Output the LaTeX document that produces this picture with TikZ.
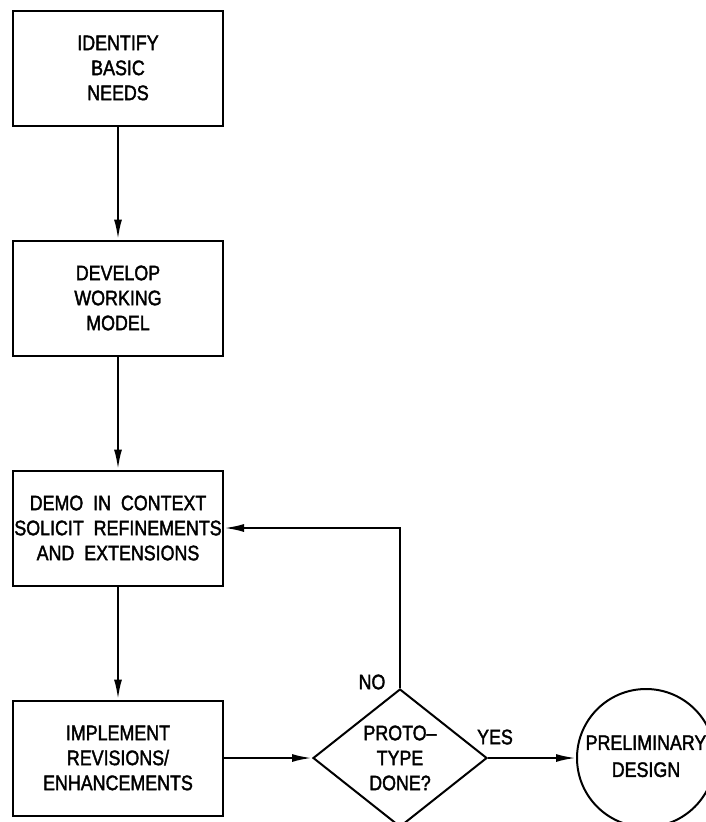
\documentclass[tikz,border=0pt]{standalone}
\usepackage{fontspec}
\setmainfont{Liberation Sans}[FakeStretch=0.85,FakeBold=1.8]
\usetikzlibrary{arrows.meta,shapes.geometric}

\tikzset{
  flowline/.style={line width=2.2pt},
  flowarrow/.style={flowline,-{Latex[length=20pt,width=8pt]}},
  stepbox/.style={draw,line width=2pt,rectangle,minimum width=210pt,minimum height=115pt,
    inner sep=0pt,align=center,font=\fontsize{21}{25}\selectfont},
  decision/.style={draw,line width=2pt,diamond,minimum width=174pt,minimum height=138pt,
    inner sep=0pt,align=center,font=\fontsize{21}{25}\selectfont},
  terminal/.style={draw,line width=2pt,circle,minimum size=138pt,inner sep=0pt,
    font=\fontsize{21}{27}\selectfont},
  lbl/.style={inner sep=0pt,font=\fontsize{21}{25}\selectfont}
}

\begin{document}
\begin{tikzpicture}[x=1pt,y=-1pt]
  \clip (0,0) rectangle (706,822);
  \useasboundingbox (0,0) rectangle (706,822);

  % process steps
  \node[stepbox] (n1) at (118,68) {IDENTIFY\\BASIC\\NEEDS};
  \node[stepbox] (n2) at (118,298) {DEVELOP\\WORKING\\MODEL};
  \node[stepbox] (n3) at (118,528) {DEMO~~IN~~CONTEXT\\SOLICIT~~REFINEMENTS\\AND~~EXTENSIONS};
  \node[stepbox] (n4) at (118,758) {IMPLEMENT\\REVISIONS/\\ENHANCEMENTS};

  % decision and result (the result text sits a little below centre)
  \node[decision] (d) at (400,758) {PROTO--\\TYPE\\DONE?};
  \node[terminal] (c) at (646,758)
    {\raisebox{-4pt}{\begin{tabular}{@{}c@{}}PRELIMINARY\\DESIGN\end{tabular}}};

  % branch labels
  \node[lbl] (no) at (372,682) {NO};
  \node[lbl] (yes) at (495,737) {YES};

  % connectors
  \draw[flowarrow] (n1) -- (n2);
  \draw[flowarrow] (n2) -- (n3);
  \draw[flowarrow] (n3) -- (n4);
  \draw[flowarrow] (n4) -- (d);
  \draw[flowarrow] (d) -- (c);
  \draw[flowarrow] (d.north) |- (n3.east);
\end{tikzpicture}
\end{document}
